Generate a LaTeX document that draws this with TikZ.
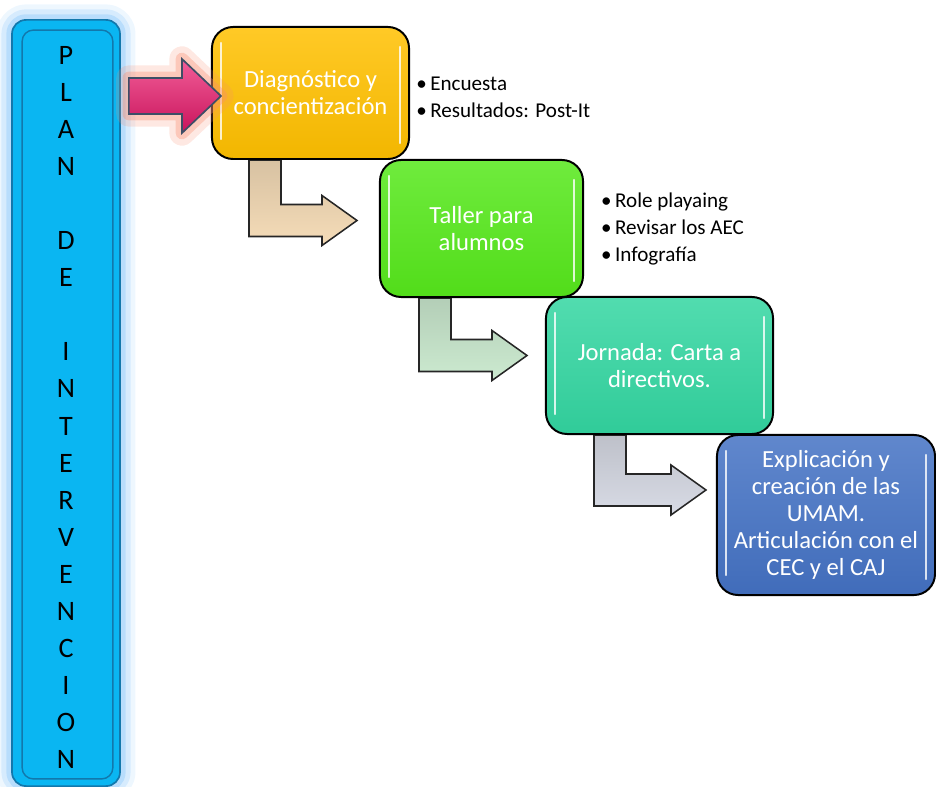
\documentclass[tikz,border=0pt]{standalone}
\usepackage{fontspec}
\setmainfont{Carlito}
\usetikzlibrary{positioning, calc, backgrounds}

\definecolor{barblue}{RGB}{10,182,242}
\definecolor{bardark}{RGB}{18,120,172}
\definecolor{glowblue}{RGB}{140,200,250}
\definecolor{stageorange}{RGB}{255,192,0}
\definecolor{stagegreen}{RGB}{86,232,27}
\definecolor{stageteal}{RGB}{51,214,161}
\definecolor{stageblue}{RGB}{68,114,196}
\definecolor{arrowpink}{RGB}{236,24,108}
\definecolor{arrowedge}{RGB}{61,78,102}
\definecolor{glowpink}{RGB}{248,140,110}
\definecolor{bendtan}{RGB}{245,220,184}
\definecolor{bendgreen}{RGB}{204,234,208}
\definecolor{bendgray}{RGB}{216,219,229}

\newcommand{\gloss}[1]{%
  \draw[white, opacity=0.8, line width=1.6pt, line cap=round]
    ($(#1.north west)+(10,17)$) -- ($(#1.south west)+(10,-21)$)
    ($(#1.north east)+(-10,21)$) -- ($(#1.south east)+(-10,-17)$);}

\newcommand{\bentarrow}[3]{%
  \draw[bentshape, top color=#1!88!black, bottom color=#1] (#2)
    -- ($(#2 |- #3)+(0,16)$) -- ($(#3)+(-35,16)$) -- ($(#3)+(-35,25)$)
    -- (#3) -- ($(#3)+(-35,-25)$) -- ($(#3)+(-35,-16)$)
    -- ($(#2 |- #3)+(32,-16)$) -- ($(#2)+(32,0)$) -- cycle;}

\begin{document}
\begin{tikzpicture}[x=0.025cm, y=-0.025cm,
    stage/.style={draw=black, line width=1.4pt, rounded corners=15pt,
        top color=#1!85!white, bottom color=#1!95!black, text=white,
        align=center, inner sep=0pt, font=\fontsize{17.5}{19.2}\selectfont},
    bulletlist/.style={align=left, inner sep=0pt, font=\fontsize{15}{19.2}\selectfont},
    letter/.style={inner sep=0pt, font=\fontsize{20}{24}\selectfont},
    bentshape/.style={draw=black!85, line width=1.1pt, line join=miter},
    glow/.style={draw=#1, line join=round}]
    \useasboundingbox (0,0) rectangle (936,787);

    \node[draw=bardark, line width=1.2pt, fill=barblue, rounded corners=10pt,
        minimum width=2.7cm, minimum height=19.15cm,
        preaction={glow=glowblue, line width=22pt, opacity=0.15},
        preaction={glow=glowblue, line width=15pt, opacity=0.25},
        preaction={glow=glowblue, line width=8pt, opacity=0.4}]
        (bar) at (66,403) {};
    \draw[bardark, line width=1pt, rounded corners=8pt]
        ($(bar.north west)+(11,11)$) rectangle ($(bar.south east)+(-8,-8)$);
    \foreach \ch/\r in {P/0,L/1,A/2,N/3,D/5,E/6,I/8,N/9,T/10,E/11,R/12,
        V/13,E/14,N/15,C/16,I/17,O/18,N/19}
        \node[letter] (ltr\r) at (66,{55+37.1*\r}) {\ch};

    \node[stage=stageorange, minimum width=4.925cm, minimum height=3.3cm]
        (d1) at (310.5,93) {Diagnóstico y\\concientización};
    \node[stage=stagegreen, minimum width=5.075cm, minimum height=3.425cm]
        (d2) at (481.5,228.5) {Taller para\\alumnos};
    \node[stage=stageteal, minimum width=5.675cm, minimum height=3.425cm]
        (d3) at (659.5,365.5) {Jornada: Carta a\\directivos.};
    \node[stage=stageblue, minimum width=5.45cm, minimum height=4cm]
        (d4) at (826,515) {Explicación y\\creación de las\\UMAM.\\Articulación con el\\CEC y el CAJ};
    \foreach \d in {d1,d2,d3,d4}
        \gloss{\d};

    \node[bulletlist, right=0.15cm of d1, yshift=-0.1cm] (n1)
        {•\,Encuesta\\•\,Resultados: Post-It};
    \node[bulletlist, right=0.42cm of d2] (n2)
        {•\,Role playaing\\•\,Revisar los AEC\\•\,Infografía};

    \coordinate (s1) at ($(d1.south west)+(38,0)$);
    \coordinate (t1) at ($(d2.west)+(-22,-8)$);
    \coordinate (s2) at ($(d2.south west)+(40,0)$);
    \coordinate (t2) at ($(d3.west)+(-18,-10)$);
    \coordinate (s3) at ($(d3.south west)+(49,0)$);
    \coordinate (t3) at ($(d4.west)+(-10,-25)$);
    \begin{scope}[on background layer]
        \bentarrow{bendtan}{s1}{t1}
        \bentarrow{bendgreen}{s2}{t2}
        \bentarrow{bendgray}{s3}{t3}
    \end{scope}

    \coordinate (pa) at ($(bar.east |- d1.west)+(8,3)$);
    \coordinate (pb) at ($(d1.west)+(10,3)$);
    \draw[draw=arrowedge, line width=1.2pt, line join=miter,
        top color=arrowpink!70!white, bottom color=arrowpink!85!black,
        preaction={glow=glowpink, line width=18pt, opacity=0.2},
        preaction={glow=glowpink, line width=9pt, opacity=0.35}]
        ($(pa)+(0,-18)$) -- ($(pb)+(-39,-18)$) -- ($(pb)+(-39,-37)$) -- (pb)
        -- ($(pb)+(-39,37)$) -- ($(pb)+(-39,18)$) -- ($(pa)+(0,18)$) -- cycle;
\end{tikzpicture}
\end{document}
